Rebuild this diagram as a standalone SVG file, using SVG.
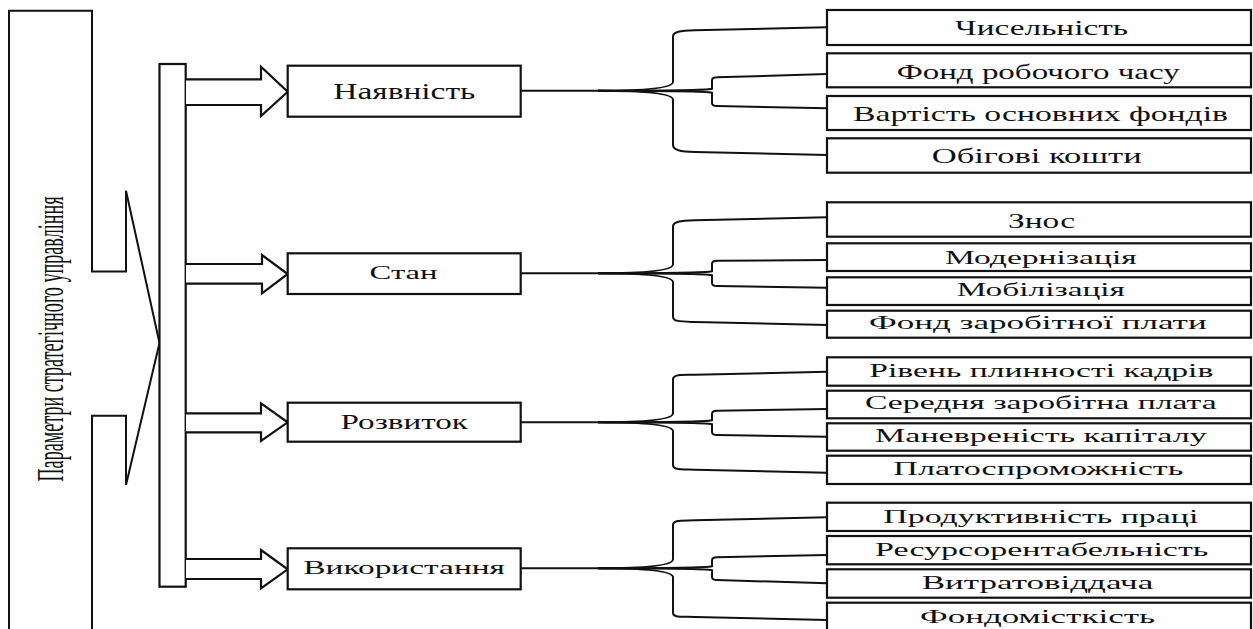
<svg xmlns="http://www.w3.org/2000/svg" width="1253" height="629" viewBox="0 0 1253 629">
<style>
.bx{fill:#fff;stroke:#111;stroke-width:2.2}
.ln{fill:none;stroke:#111;stroke-width:2}
.ar{fill:#fff;stroke:#111;stroke-width:2.2;stroke-linejoin:miter}
text{font-family:"Liberation Serif","Times New Roman",serif;fill:#111}
</style>
<rect width="1253" height="629" fill="#fff"/>
<g id="root-callout">
<path class="ln" d="M9,640 V10.8 H92 V271.6 H126 V190.7 L159.5,343 L126,485 V415.7 H92 V640"/>
<text transform="translate(63,339) rotate(-90)" text-anchor="middle" font-size="38" textLength="285" lengthAdjust="spacingAndGlyphs">Параметри стратегічного управління</text>
</g>
<g id="bar"><rect class="bx" x="159.5" y="64" width="26.2" height="522.7"/></g>
<g id="arrows">
<path class="ar" d="M186,79.3 H261 V66.7 L287.7,91.7 L261,116 V105 H186"/>
<path class="ar" d="M186,264 H262 V255 L287.7,274 L262,293.3 V283.7 H186"/>
<path class="ar" d="M186,413.3 H261 V403.3 L287.7,422.3 L261,441 V432.3 H186"/>
<path class="ar" d="M186,559 H261 V550 L287.7,569.3 L261,588.3 V579 H186"/>
</g>
<g id="n-nayavnist"><rect class="bx" x="287.7" y="65.7" width="233" height="51"/><text x="333.3" y="99.3" font-size="24" textLength="142" lengthAdjust="spacingAndGlyphs">Наявність</text></g>
<g id="n-stan"><rect class="bx" x="287.7" y="253.3" width="233" height="40.7"/><text x="369.6" y="279.3" font-size="19.5" textLength="68" lengthAdjust="spacingAndGlyphs">Стан</text></g>
<g id="n-rozvytok"><rect class="bx" x="287.7" y="402.7" width="233" height="39"/><text x="340.5" y="429.3" font-size="20" textLength="127.5" lengthAdjust="spacingAndGlyphs">Розвиток</text></g>
<g id="n-vykorystannya"><rect class="bx" x="287.7" y="548.3" width="233" height="41"/><text x="303.3" y="574" font-size="19.5" textLength="201.7" lengthAdjust="spacingAndGlyphs">Використання</text></g>
<g id="connectors">
<path class="ln" d="M521,90.7 H598"/>
<path class="ln" d="M598,90.7 C640,90.7 673,88.7 673,81.7 V36.7 C673,31.7 680,30.8 695,30.3 L827,27.3"/>
<path class="ln" d="M598,90.7 C640,90.7 673,92.7 673,99.7 V145 C673,150 680,151.5 695,152 L827,155"/>
<path class="ln" d="M598,90.7 C650,90.7 705,90.7 712,88.7 V80.3 Q712,77.3 717,77.3 L827,74"/>
<path class="ln" d="M598,90.7 C650,90.7 705,90.7 712,92.7 V103 Q712,106 717,106 L827,108.3"/>

<path class="ln" d="M521,273.3 H598"/>
<path class="ln" d="M598,273.3 C640,273.3 673,271.3 673,264.3 V226.7 C673,221.7 680,220.8 695,220.3 L827,217.3"/>
<path class="ln" d="M598,273.3 C640,273.3 673,275.3 673,282.3 V316.7 C673,321.7 680,321.5 695,322 L827,325"/>
<path class="ln" d="M598,273.3 C650,273.3 705,273.3 712,271.3 V263.7 Q712,260.7 717,260.7 L827,260"/>
<path class="ln" d="M598,273.3 C650,273.3 705,273.3 712,275.3 V283 Q712,286 717,286 L827,287.7"/>

<path class="ln" d="M521,422.3 H598"/>
<path class="ln" d="M598,422.3 C640,422.3 673,420.3 673,413.3 V379.3 C673,374.3 680,375.2 695,374.7 L827,371.7"/>
<path class="ln" d="M598,422.3 C640,422.3 673,424.3 673,431.3 V465 C673,470 680,469.2 695,469.7 L827,472.7"/>
<path class="ln" d="M598,422.3 C650,422.3 705,422.3 712,420.3 V413.7 Q712,410.7 717,410.7 L827,409"/>
<path class="ln" d="M598,422.3 C650,422.3 705,422.3 712,424.3 V432 Q712,435 717,435 L827,436.7"/>

<path class="ln" d="M521,568.3 H598"/>
<path class="ln" d="M598,568.3 C640,568.3 673,566.3 673,559.3 V525 C673,520 680,520.8 695,520.3 L827,517.3"/>
<path class="ln" d="M598,568.3 C640,568.3 673,570.3 673,577.3 V612.7 C673,617.7 680,616.5 695,617 L827,620"/>
<path class="ln" d="M598,568.3 C650,568.3 705,568.3 712,566.3 V560.3 Q712,557.3 717,557.3 L827,555"/>
<path class="ln" d="M598,568.3 C650,568.3 705,568.3 712,570.3 V577 Q712,580 717,580 L827,583.3"/>
</g>
<g id="g1">
<g id="n-chyselnist"><rect class="bx" x="827" y="10" width="424" height="35"/><text x="955" y="35" font-size="22" textLength="173" lengthAdjust="spacingAndGlyphs">Чисельність</text></g>
<g id="n-fond-robochogo"><rect class="bx" x="827" y="53.3" width="424" height="34"/><text x="896.7" y="79.3" font-size="22" textLength="283" lengthAdjust="spacingAndGlyphs">Фонд робочого часу</text></g>
<g id="n-vartist"><rect class="bx" x="827" y="96" width="424" height="34"/><text x="853" y="120.7" font-size="22" textLength="375" lengthAdjust="spacingAndGlyphs">Вартість основних фондів</text></g>
<g id="n-obigovi"><rect class="bx" x="827" y="138.3" width="424" height="34.4"/><text x="931.7" y="163.3" font-size="22" textLength="210" lengthAdjust="spacingAndGlyphs">Обігові кошти</text></g>
</g>
<g id="g2">
<g id="n-znos"><rect class="bx" x="827" y="202.3" width="424" height="34.4"/><text x="1008" y="227.7" font-size="21" textLength="67" lengthAdjust="spacingAndGlyphs">Знос</text></g>
<g id="n-modernizatsiya"><rect class="bx" x="827" y="243.3" width="424" height="27.7"/><text x="945" y="264" font-size="18.5" textLength="191.7" lengthAdjust="spacingAndGlyphs">Модернізація</text></g>
<g id="n-mobilizatsiya"><rect class="bx" x="827" y="277.3" width="424" height="27.7"/><text x="956.7" y="296" font-size="18" textLength="168.3" lengthAdjust="spacingAndGlyphs">Мобілізація</text></g>
<g id="n-fond-zarob"><rect class="bx" x="827" y="310.7" width="424" height="27"/><text x="869" y="329.3" font-size="18" textLength="337.7" lengthAdjust="spacingAndGlyphs">Фонд заробітної плати</text></g>
</g>
<g id="g3">
<g id="n-riven"><rect class="bx" x="827" y="357.3" width="424" height="28.4"/><text x="869.3" y="377.3" font-size="18.5" textLength="344" lengthAdjust="spacingAndGlyphs">Рівень плинності кадрів</text></g>
<g id="n-serednya"><rect class="bx" x="827" y="390.7" width="424" height="27.6"/><text x="865" y="409.3" font-size="18.5" textLength="351.7" lengthAdjust="spacingAndGlyphs">Середня заробітна плата</text></g>
<g id="n-manevrenist"><rect class="bx" x="827" y="423.3" width="424" height="27.4"/><text x="875" y="441.7" font-size="18" textLength="331.7" lengthAdjust="spacingAndGlyphs">Маневреність капіталу</text></g>
<g id="n-platospr"><rect class="bx" x="827" y="455.7" width="424" height="28.3"/><text x="893.3" y="475" font-size="18.5" textLength="290" lengthAdjust="spacingAndGlyphs">Платоспроможність</text></g>
</g>
<g id="g4">
<g id="n-produktyvnist"><rect class="bx" x="827" y="502.7" width="424" height="28.3"/><text x="883.3" y="523.3" font-size="18" textLength="315" lengthAdjust="spacingAndGlyphs">Продуктивність праці</text></g>
<g id="n-resursorent"><rect class="bx" x="827" y="536" width="424" height="28.3"/><text x="875" y="556" font-size="18" textLength="333.3" lengthAdjust="spacingAndGlyphs">Ресурсорентабельність</text></g>
<g id="n-vytratovid"><rect class="bx" x="827" y="569.3" width="424" height="28.4"/><text x="921.7" y="589" font-size="18" textLength="231.6" lengthAdjust="spacingAndGlyphs">Витратовіддача</text></g>
<g id="n-fondomist"><rect class="bx" x="827" y="602.7" width="424" height="40"/><text x="920" y="623.3" font-size="18" textLength="235" lengthAdjust="spacingAndGlyphs">Фондомісткість</text></g>
</g>
</svg>
